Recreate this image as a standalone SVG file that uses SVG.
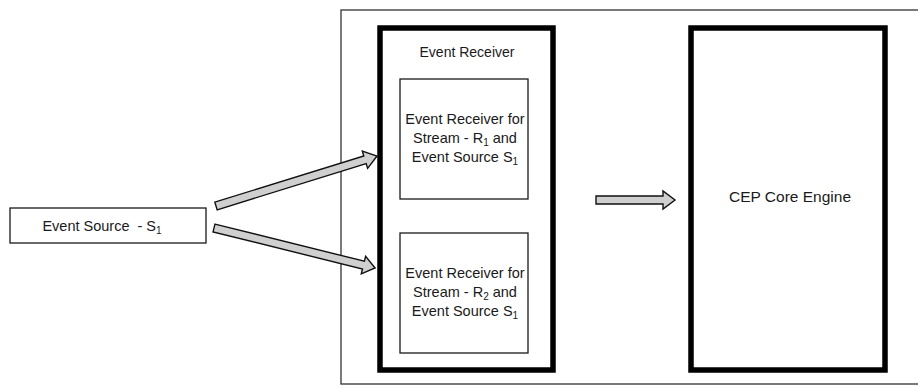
<svg xmlns="http://www.w3.org/2000/svg" width="918" height="388" viewBox="0 0 918 388">
  <style>
    .lbl { font-family: "Liberation Sans", Arial, sans-serif; font-size: 14.5px; fill: #1a1a1a; text-anchor: middle; }
    .head { font-size: 14px; }
    .big { font-size: 15.5px; }
    .sub { font-size: 10px; }
    .thin { fill: #ffffff; stroke: #1a1a1a; stroke-width: 1.3; }
    .thick { fill: #ffffff; stroke: #000000; stroke-width: 5.5; }
    .flow { fill: #cfcfcf; stroke: #111111; stroke-width: 1.4; stroke-linejoin: miter; }
  </style>
  <rect width="918" height="388" fill="#ffffff"/>

  <!-- processing container -->
  <g id="container">
    <rect x="341" y="10" width="600" height="374" fill="#ffffff" stroke="#333333" stroke-width="1.3"/>
  </g>

  <g id="event-source">
    <rect class="thin" x="10" y="208" width="196" height="35"/>
    <text class="lbl" x="102" y="231" xml:space="preserve">Event Source  - S<tspan class="sub" dy="3">1</tspan></text>
  </g>

  <g id="event-receiver">
    <rect class="thick" x="380" y="28" width="173" height="342"/>
    <text class="lbl head" x="467" y="57">Event Receiver</text>
  </g>

  <g id="receiver-r1">
    <rect class="thin" x="400" y="79" width="128" height="120"/>
    <text class="lbl" x="465" y="124">Event Receiver for</text>
    <text class="lbl" x="465" y="143">Stream - R<tspan class="sub" dy="3">1</tspan><tspan dy="-3"> and</tspan></text>
    <text class="lbl" x="465" y="162">Event Source S<tspan class="sub" dy="3">1</tspan></text>
  </g>

  <g id="receiver-r2">
    <rect class="thin" x="400" y="233" width="128" height="120"/>
    <text class="lbl" x="465" y="278">Event Receiver for</text>
    <text class="lbl" x="465" y="297">Stream - R<tspan class="sub" dy="3">2</tspan><tspan dy="-3"> and</tspan></text>
    <text class="lbl" x="465" y="316">Event Source S<tspan class="sub" dy="3">1</tspan></text>
  </g>

  <g id="cep-core-engine">
    <rect class="thick" x="691" y="28" width="194" height="342"/>
    <text class="lbl big" x="790" y="202">CEP Core Engine</text>
  </g>

  <!-- block arrows between stages -->
  <g id="connectors">
    <polygon class="flow" transform="translate(216,206) rotate(-17.25)" points="0,-4 156,-4 156,-9 168.6,0 156,9 156,4 0,4"/>
    <polygon class="flow" transform="translate(214,228) rotate(13.95)" points="0,-4 154,-4 154,-9 166,0 154,9 154,4 0,4"/>
    <polygon class="flow" transform="translate(596,200)" points="0,-4 67,-4 67,-9 79,0 67,9 67,4 0,4"/>
  </g>
</svg>
